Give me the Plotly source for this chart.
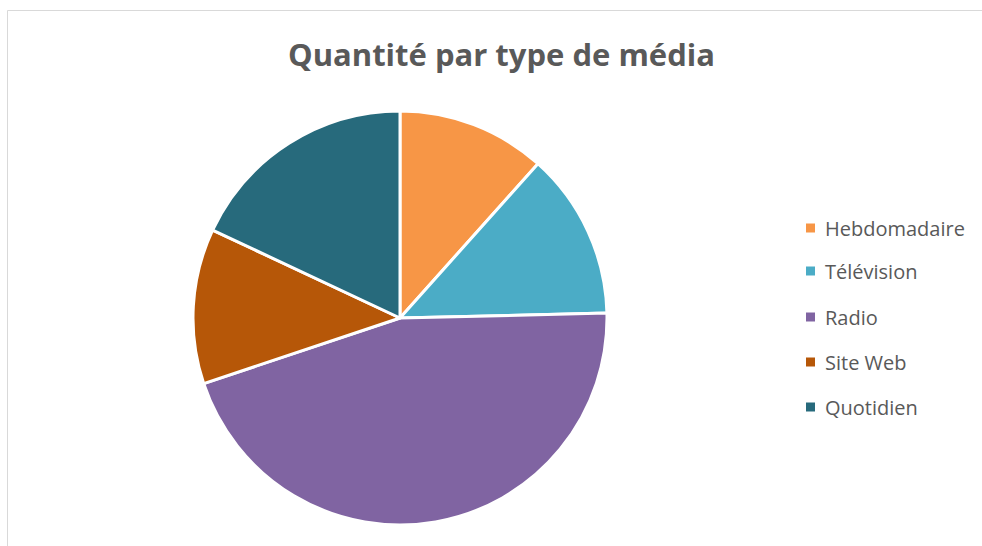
import plotly.graph_objects as go

labels = ["Hebdomadaire", "Télévision", "Radio", "Site Web", "Quotidien"]
values = [11.6, 13.0, 45.2, 12.1, 18.0]
colors = ["#F79646", "#4BACC6", "#8064A2", "#B65708", "#276A7C"]
title_text = "Quantité par type de média"

W, H = 982, 546
fig = go.Figure()
fig.add_trace(go.Pie(
    labels=labels, values=values, sort=False, direction="clockwise", rotation=0,
    marker=dict(colors=colors, line=dict(color="white", width=3)),
    textinfo="none", hoverinfo="label+value+percent", showlegend=False,
    domain=dict(x=[(400 - 207) / W, (400 + 207) / W], y=[1 - 525 / H, 1 - 111 / H]),
))

# frame
fig.add_shape(type="rect", xref="paper", yref="paper",
              x0=7.5 / W, x1=1.01, y0=-0.01, y1=1 - 10.5 / H,
              line=dict(color="#D9D9D9", width=1), fillcolor="rgba(0,0,0,0)")

# title
fig.add_annotation(text="<b>" + title_text + "</b>", xref="paper", yref="paper",
                   x=501 / W, y=1 - 54 / H, showarrow=False, xanchor="center", yanchor="middle",
                   font=dict(family="Open Sans", size=31, color="#595959"))

# manual legend
leg_y = [228, 271, 317, 362, 407]
for lab, col, yy in zip(labels, colors, leg_y):
    fig.add_shape(type="rect", xref="paper", yref="paper",
                  x0=806 / W, x1=815 / W, y0=1 - (yy + 4.5) / H, y1=1 - (yy - 4.5) / H,
                  line=dict(width=0), fillcolor=col)
    fig.add_annotation(text=lab, xref="paper", yref="paper", x=823 / W, y=1 - yy / H,
                       showarrow=False, xanchor="left", yanchor="middle",
                       font=dict(family="Open Sans", size=20, color="#595959"))

fig.update_layout(width=W, height=H, margin=dict(l=0, r=0, t=0, b=0),
                  paper_bgcolor="white", plot_bgcolor="white", showlegend=False)
fig.write_html("out.html", config={"displayModeBar": False},
               post_script="document.body.style.margin='0';document.body.style.overflow='hidden';")
